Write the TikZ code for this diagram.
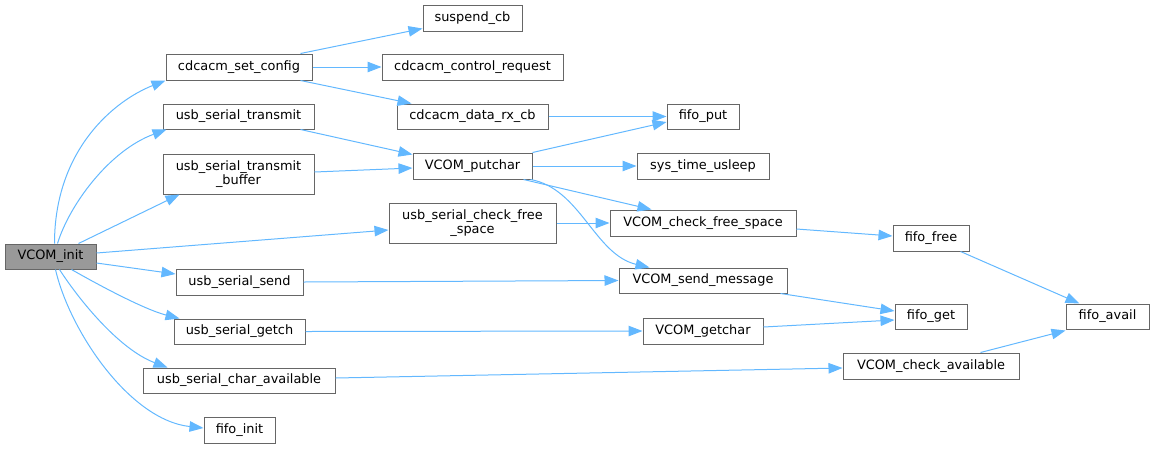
\documentclass[tikz,border=0pt]{standalone}
\usepackage{fontspec}
\setmainfont{DejaVu Sans}
\usetikzlibrary{arrows.meta}
\definecolor{edgec}{HTML}{63B8FF}
\definecolor{boxc}{HTML}{666666}
\definecolor{rootc}{HTML}{999999}
\tikzset{
  fn/.style={draw=boxc, fill=white, line width=1pt, inner sep=0pt, align=center,
    font=\fontsize{12.9}{14.5}\selectfont, text=black},
  rootfn/.style={fn, fill=rootc},
  call/.style={draw=edgec, line width=1pt, -{Triangle[length=14pt,width=10.5pt]}},
}
\begin{document}
\begin{tikzpicture}[x=1pt,y=-1pt]
\useasboundingbox (0,0) rectangle (1155,448);
% nodes
\node[rootfn, minimum width=91pt, minimum height=25pt] (init) at (50.5,256.5) {VCOM\_init};
\node[fn, minimum width=146pt, minimum height=26pt] (scfg) at (239,67) {cdcacm\_set\_config};
\node[fn, minimum width=151pt, minimum height=25pt] (ust) at (238.5,116.5) {usb\_serial\_transmit};
\node[fn, minimum width=151pt, minimum height=40pt] (ustb) at (238.5,174) {usb\_serial\_transmit\\\_buffer};
\node[fn, minimum width=99pt, minimum height=26pt] (susp) at (472.5,18) {suspend\_cb};
\node[fn, minimum width=181pt, minimum height=26pt] (ctrl) at (472.5,67) {cdcacm\_control\_request};
\node[fn, minimum width=151pt, minimum height=25pt] (rx) at (472.5,116.5) {cdcacm\_data\_rx\_cb};
\node[fn, minimum width=72pt, minimum height=25pt] (fput) at (703,116.5) {fifo\_put};
\node[fn, minimum width=119pt, minimum height=26pt] (putc) at (472.5,166) {VCOM\_putchar};
\node[fn, minimum width=132pt, minimum height=26pt] (usl) at (703,166) {sys\_time\_usleep};
\node[fn, minimum width=167pt, minimum height=40pt] (uscfs) at (472.5,223) {usb\_serial\_check\_free\\\_space};
\node[fn, minimum width=186pt, minimum height=26pt] (cfs) at (703,223) {VCOM\_check\_free\_space};
\node[fn, minimum width=168pt, minimum height=25pt] (sm) at (703,280.5) {VCOM\_send\_message};
\node[fn, minimum width=120pt, minimum height=26pt] (gc) at (703,331) {VCOM\_getchar};
\node[fn, minimum width=127pt, minimum height=26pt] (uss) at (239.5,282) {usb\_serial\_send};
\node[fn, minimum width=131pt, minimum height=25pt] (usg) at (239.5,331.5) {usb\_serial\_getch};
\node[fn, minimum width=192pt, minimum height=25pt] (usca) at (239,380.5) {usb\_serial\_char\_available};
\node[fn, minimum width=71pt, minimum height=26pt] (finit) at (239.5,430) {fifo\_init};
\node[fn, minimum width=76pt, minimum height=26pt] (ffree) at (931,238) {fifo\_free};
\node[fn, minimum width=72pt, minimum height=25pt] (fget) at (931,316.5) {fifo\_get};
\node[fn, minimum width=83pt, minimum height=25pt] (favail) at (1107.5,316.5) {fifo\_avail};
\node[fn, minimum width=176pt, minimum height=26pt] (ca) at (931,366) {VCOM\_check\_available};
% edges from VCOM_init
\draw[call] ([xshift=50pt]init.north west) .. controls +(0,-94) and +(-51,20) .. (scfg.south west);
\draw[call] ([xshift=53pt]init.north west) .. controls +(12,-39) and +(-57,21) .. ([xshift=4pt]ust.south west);
\draw[call] ([xshift=74pt]init.north west) -- ([xshift=17pt]ustb.south west);
\draw[call] ([yshift=3.5pt]init.east) -- ([yshift=-7pt]uscfs.west);
\draw[call] ([yshift=-6.5pt]init.east) -- ([yshift=8pt]uss.west);
\draw[call] ([xshift=67pt]init.south west) .. controls +(28,16) and +(-35,-9) .. ([xshift=6pt]usg.north west);
\draw[call] ([xshift=55pt]init.south west) .. controls +(20,31) and +(-48,-18) .. ([xshift=25pt]usca.north west);
\draw[call] ([xshift=51pt]init.south west) .. controls +(14,61) and +(-74,-8) .. ([yshift=2pt]finit.west);
% cdcacm_set_config
\draw[call] ([xshift=-12pt]scfg.north east) -- ([yshift=3pt]susp.south west);
\draw[call] (scfg.east) -- (ctrl.west);
\draw[call] ([xshift=-12pt]scfg.south east) -- ([xshift=15pt]rx.north west);
\draw[call] (rx.east) -- (fput.west);
% transmit
\draw[call] ([xshift=-14pt]ust.south east) -- ([yshift=-2pt]putc.north west);
\draw[call] ([yshift=2pt]ustb.east) -- ([yshift=-2pt]putc.west);
% putchar
\draw[call] (putc.north east) -- ([yshift=-5.5pt]fput.west);
\draw[call] (putc.east) -- (usl.west);
\draw[call] ([xshift=-9pt]putc.south east) -- ([xshift=42pt]cfs.north west);
\draw[call] ([xshift=-2pt]putc.south east) .. controls +(50,9) and +(-55,-13) .. ([xshift=31pt]sm.north west);
% free space
\draw[call] (uscfs.east) -- (cfs.west);
\draw[call] ([yshift=-6pt]cfs.east) -- ([yshift=2pt]ffree.west);
\draw[call] ([xshift=-9pt]ffree.south east) -- ([xshift=14pt]favail.north west);
% send / getch / available
\draw[call] (uss.east) -- (sm.west);
\draw[call] ([xshift=-7pt]sm.south east) -- ([yshift=5.5pt]fget.west);
\draw[call] (usg.east) -- (gc.west);
\draw[call] ([yshift=4pt]gc.east) -- ([yshift=-3.5pt]fget.west);
\draw[call] ([yshift=2.5pt]usca.east) -- ([yshift=-2pt]ca.west);
\draw[call] ([xshift=-39pt]ca.north east) -- ([yshift=-1pt]favail.south west);
\end{tikzpicture}
\end{document}
